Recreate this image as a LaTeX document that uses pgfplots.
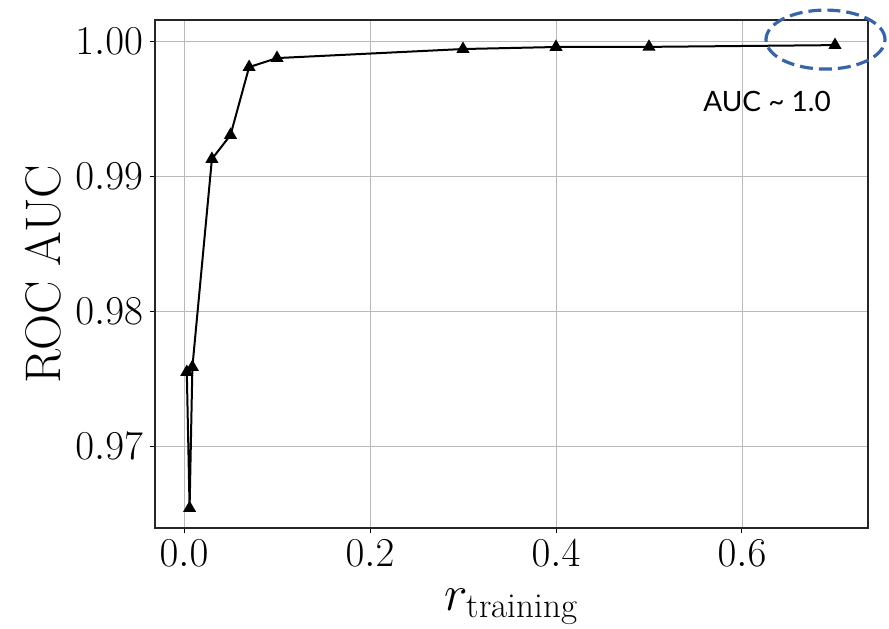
\documentclass[border=0pt]{standalone}
\usepackage{fix-cm}
\usepackage{amsmath}
\usepackage{fontspec}
\newfontfamily\annfont{Lato}
\usepackage{pgfplots}
\pgfplotsset{compat=1.18}
\definecolor{ellblue}{RGB}{58,101,165}

\begin{document}
\begin{tikzpicture}
  \useasboundingbox (-77.5pt,-50pt) rectangle (367pt,264pt);
  \begin{axis}[
    scale only axis,
    width=356.5pt, height=254pt,
    xmin=-0.0312, xmax=0.7355,
    ymin=0.96393, ymax=1.00156,
    xtick={0,0.2,0.4,0.6},
    ytick={0.97,0.98,0.99,1.00},
    xticklabel style={/pgf/number format/.cd, fixed, fixed zerofill, precision=1},
    yticklabel style={/pgf/number format/.cd, fixed, fixed zerofill, precision=2},
    tick label style={font=\fontsize{20.5}{22}\selectfont},
    xtick pos=bottom, ytick pos=left, tick align=outside,
    major tick length=2.5pt,
    every tick/.style={black, line width=0.5pt},
    axis line style={line width=0.6pt, black!85},
    grid=major, grid style={gray!55, line width=0.45pt},
    xlabel={$r_{\text{training}}$},
    ylabel={ROC AUC},
    label style={font=\fontsize{25}{28}\selectfont},
    xlabel style={at={(axis description cs:0.5,0)}, anchor=base, yshift=-41pt},
    ylabel style={at={(axis description cs:-0.157,0.5)}, anchor=center},
    clip=false,
  ]
  \addplot[black, line width=1pt, mark=triangle*, mark size=2.8pt]
    coordinates {(0.003,0.97548)(0.006,0.96540)(0.009,0.97585)(0.03,0.99126)(0.05,0.99304)(0.07,0.99807)(0.1,0.99874)(0.3,0.99941)(0.4,0.99956)(0.5,0.99957)(0.7,0.99970)};
  \draw[ellblue, line width=1.6pt, dash pattern=on 6.5pt off 3pt]
    (axis cs:0.6898,1.00011) ellipse [x radius=29.75pt, y radius=14.75pt];
  \node[font=\annfont\fontsize{14}{16}\selectfont, anchor=center] at (axis cs:0.627,0.99556) {AUC \textasciitilde\ 1.0};
  \end{axis}
\end{tikzpicture}
\end{document}
